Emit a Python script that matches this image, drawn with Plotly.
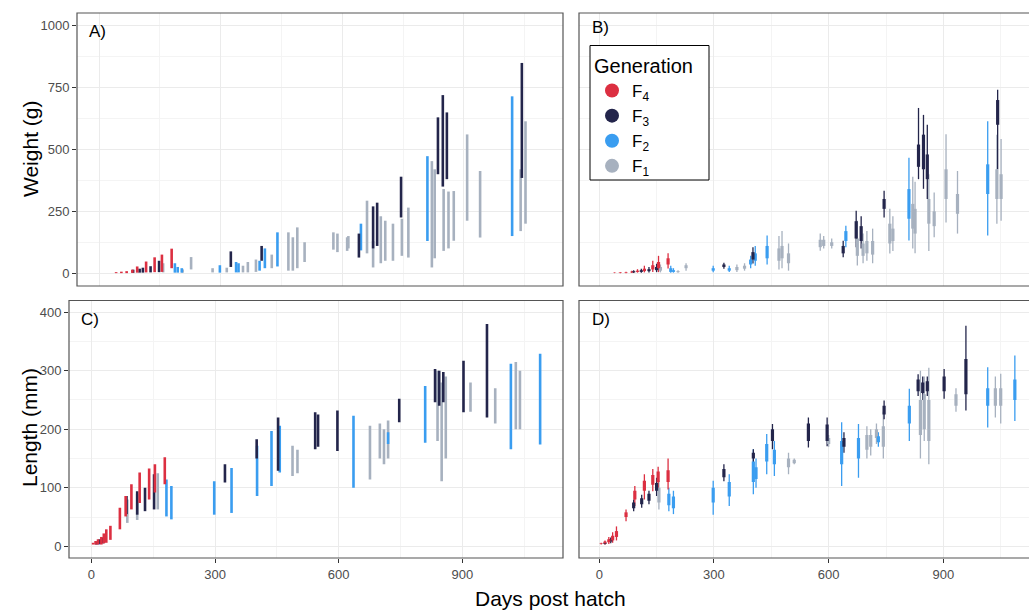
import plotly.graph_objects as go

# ---------------- data (day, generation, low, high) per sampling strip ----------------
# Panel A: weight (g), individual fish
A_day = [42, 55, 68, 82, 94, 116, 137, 155, 179,
         84, 100, 108, 127, 148, 325, 401, 641, 676, 686, 745, 836, 848, 858, 1043,
         187, 194, 204, 298, 338, 344, 396, 409, 440, 646, 810, 1019,
         158, 206, 227, 280, 315, 355, 367, 387, 426, 467, 478, 489, 507, 578, 588, 612, 615,
         661, 676, 695, 706, 725, 747, 763, 821, 828, 850, 862, 875, 908, 940, 1040, 1052]
A_gen = [4]*9 + [3]*15 + [2]*12 + [1]*33
A_lo = [0, 0, 0, 1, 2, 3, 4, 5, 20,
        1, 2, 2, 3, 4, 25, 50, 63, 100, 110, 225, 400, 350, 380, 385,
        2, 2, 2, 2, 3, 3, 10, 20, 27, 92, 130, 150,
        3, 2, 15, 3, 3, 3, 3, 5, 20, 10, 10, 20, 45, 95, 85, 90, 100,
        80, 23, 40, 50, 50, 70, 63, 23, 60, 90, 100, 131, 212, 144, 170, 200]
A_hi = [4, 6, 8, 14, 27, 47, 64, 75, 99,
        14, 18, 22, 28, 50, 88, 110, 160, 270, 285, 390, 630, 720, 650, 850,
        40, 25, 20, 32, 45, 40, 50, 100, 165, 200, 473, 715,
        40, 15, 65, 20, 22, 30, 45, 55, 75, 165, 145, 185, 125, 165, 160, 145, 150,
        293, 130, 230, 212, 200, 220, 265, 453, 420, 340, 330, 332, 561, 413, 420, 614]

# Panel B: weight (g), family summaries (whisker low/high, box low/high)
B_day = [40, 55, 70, 85, 100, 118, 140, 155, 180,
         90, 110, 130, 150, 326, 402, 638, 672, 685, 745, 835, 848, 858, 1042,
         187, 194, 298, 340, 396, 408, 439, 645, 810, 1016,
         160, 206, 227, 360, 380, 470, 478, 495, 578, 587, 608, 675, 690, 700, 715,
         760, 768, 820, 826, 862, 876, 907, 937, 1040, 1051]
B_gen = [4]*9 + [3]*14 + [2]*10 + [1]*25
B_lo = [0, 0, 0, 1, 2, 3, 5, 4, 19,
        1, 2, 3, 4, 18, 39, 64, 105, 100, 225, 380, 341, 300, 420,
        2, 2, 4, 5, 20, 30, 35, 105, 132, 152,
        3, 2, 10, 5, 10, 15, 20, 10, 91, 100, 100, 31, 40, 50, 40,
        79, 90, 100, 80, 90, 145, 205, 160, 200, 212]
B_hi = [3, 4, 6, 10, 16, 30, 50, 70, 80,
        12, 18, 25, 38, 42, 105, 131, 252, 230, 333, 668, 640, 600, 742,
        30, 20, 30, 30, 70, 110, 152, 192, 467, 614,
        35, 12, 40, 35, 40, 150, 170, 120, 160, 150, 140, 212, 160, 170, 180,
        260, 230, 390, 370, 400, 326, 562, 413, 560, 542]
B_q1 = [1, 1, 2, 3, 5, 8, 15, 20, 35,
        3, 5, 8, 12, 25, 55, 80, 140, 130, 260, 430, 420, 380, 600,
        5, 5, 10, 10, 35, 50, 60, 130, 220, 320,
        10, 4, 20, 12, 18, 50, 60, 40, 105, 110, 110, 70, 70, 80, 75,
        120, 130, 180, 160, 200, 190, 300, 240, 300, 300]
B_q3 = [2, 3, 4, 6, 10, 18, 32, 45, 60,
        8, 12, 16, 25, 35, 85, 110, 210, 190, 300, 520, 560, 480, 700,
        20, 12, 20, 20, 55, 80, 110, 170, 340, 440,
        25, 8, 32, 25, 30, 100, 110, 80, 135, 135, 125, 140, 120, 130, 130,
        200, 180, 280, 260, 300, 250, 420, 320, 420, 400]

# Panel C: length (mm), individual fish
C_day = [4, 10, 16, 24, 30, 36, 46, 69, 83, 97, 117, 140, 154, 178,
         12, 20, 28, 85, 111, 130, 152, 324, 401, 453, 543, 550, 597, 747, 834, 844, 854, 903, 960,
         18, 182, 194, 298, 340, 402, 437, 457, 636, 720, 810, 1018, 1089,
         87, 111, 161, 488, 500, 676, 700, 710, 720, 840, 850, 860, 920, 980, 1030, 1040]
C_gen = [4]*14 + [3]*19 + [2]*13 + [1]*16
C_lo = [3, 3, 3, 3, 5, 6, 11, 29, 51, 63, 74, 80, 92, 106,
        3, 4, 5, 55, 54, 60, 63, 109, 150, 129, 166, 170, 163, 212, 246, 240, 246, 229, 220,
        3, 51, 46, 54, 57, 86, 103, 126, 100, 175, 177, 166, 174,
        40, 45, 63, 120, 125, 114, 150, 140, 150, 180, 111, 150, 230, 210, 200, 200]
C_hi = [6, 9, 12, 16, 22, 29, 35, 66, 86, 106, 126, 133, 140, 152,
        8, 12, 15, 86, 94, 100, 123, 140, 183, 220, 229, 225, 232, 252, 303, 300, 298, 317, 380,
        8, 114, 103, 111, 134, 172, 197, 206, 223, 195, 274, 312, 329,
        80, 90, 125, 172, 165, 206, 210, 200, 215, 300, 280, 290, 280, 270, 315, 300]

# Panel D: length (mm), family summaries (whisker low/high, box low/high)
D_day = [5, 15, 25, 35, 45, 70, 93, 118, 140, 154, 180,
         15, 30, 90, 111, 130, 150, 326, 403, 453, 547, 596, 640, 745, 834, 846, 858, 902, 959,
         182, 194, 298, 340, 403, 410, 438, 458, 634, 678, 730, 811, 1016, 1087,
         156, 495, 510, 600, 700, 710, 725, 743, 840, 850, 862, 933, 1036, 1050]
D_gen = [4]*11 + [3]*18 + [2]*14 + [1]*14
D_lo = [3, 3, 4, 6, 10, 43, 69, 80, 94, 100, 97,
        3, 5, 60, 66, 72, 86, 111, 140, 166, 169, 171, 160, 217, 257, 250, 257, 252, 232,
        60, 55, 54, 69, 89, 100, 123, 120, 103, 117, 170, 180, 203, 214,
        63, 123, 140, 170, 150, 155, 175, 150, 150, 180, 140, 230, 220, 210]
D_hi = [6, 10, 16, 24, 34, 63, 103, 123, 132, 136, 150,
        8, 15, 80, 88, 95, 117, 140, 166, 209, 220, 220, 195, 249, 294, 290, 290, 303, 377,
        100, 95, 112, 123, 166, 150, 192, 180, 212, 209, 195, 269, 306, 326,
        112, 160, 150, 190, 205, 200, 210, 230, 300, 290, 305, 270, 290, 295]
D_q1 = [4, 5, 7, 10, 16, 50, 80, 95, 105, 110, 110,
        4, 8, 65, 72, 78, 95, 118, 150, 180, 180, 180, 170, 225, 265, 262, 265, 265, 260,
        70, 65, 75, 85, 110, 115, 145, 140, 140, 150, 178, 210, 240, 250,
        75, 135, 142, 175, 165, 170, 185, 170, 190, 200, 180, 240, 240, 240]
D_q3 = [5, 8, 12, 18, 26, 58, 95, 112, 122, 128, 130,
        6, 12, 75, 82, 90, 108, 132, 160, 200, 210, 208, 185, 240, 285, 280, 282, 290, 320,
        90, 85, 100, 110, 145, 135, 175, 165, 180, 185, 188, 240, 270, 285,
        100, 150, 148, 185, 190, 190, 200, 205, 250, 260, 250, 260, 270, 270]

GENS = [4, 3, 2, 1]
GEN_LABELS = ["F<sub>4</sub>", "F<sub>3</sub>", "F<sub>2</sub>", "F<sub>1</sub>"]
GEN_COLORS = {4: "#DC2F41", 3: "#23254B", 2: "#3A9DF0", 1: "#A7B1BF"}

X_TICKS = [0, 300, 600, 900]
W_TICKS = [0, 250, 500, 750, 1000]
L_TICKS = [0, 100, 200, 300, 400]

FONT = "Liberation Sans, Arial, sans-serif"
W, H = 1029, 611

fig = go.Figure()

# legend entries
for g, lab in zip(GENS, GEN_LABELS):
    fig.add_trace(go.Scatter(x=[None], y=[None], mode="markers", name=lab,
                             marker=dict(size=14, color=GEN_COLORS[g]),
                             xaxis="x2", yaxis="y2", showlegend=True))


def add_segments(days, gens, los, his, xa, ya, lw):
    for g in [1, 2, 3, 4]:
        xs, ys = [], []
        for d, gg, lo, hi in zip(days, gens, los, his):
            if gg == g:
                xs += [d, d, None]
                ys += [lo, hi, None]
        fig.add_trace(go.Scatter(x=xs, y=ys, mode="lines", xaxis=xa, yaxis=ya,
                                 line=dict(color=GEN_COLORS[g], width=lw),
                                 showlegend=False, hoverinfo="skip"))


add_segments(A_day, A_gen, A_lo, A_hi, "x", "y", 2.6)
add_segments(C_day, C_gen, C_lo, C_hi, "x3", "y3", 2.6)
add_segments(B_day, B_gen, B_lo, B_hi, "x2", "y2", 1.3)
add_segments(B_day, B_gen, B_q1, B_q3, "x2", "y2", 3.2)
add_segments(D_day, D_gen, D_lo, D_hi, "x4", "y4", 1.3)
add_segments(D_day, D_gen, D_q1, D_q3, "x4", "y4", 3.2)


def px(v):
    return v / W


def py(v):
    return (H - v) / H


row1 = [py(286), py(13)]
row2 = [py(558), py(300.5)]
colA = [px(77), px(563)]
colC = [px(69), px(563)]
colB = [px(579), 1.0]

grid = "#EBEBEB"
minor = dict(showgrid=True, gridcolor="#F4F4F4", gridwidth=1)
tickfont = dict(family=FONT, size=13, color="#4D4D4D")


def xax(domain, rng, anchor, labels):
    return dict(domain=domain, range=rng, anchor=anchor, tickvals=X_TICKS,
                showgrid=True, gridcolor=grid, gridwidth=1, zeroline=False,
                showline=False, ticks="outside" if labels else "", ticklen=4,
                tickcolor="#333333", showticklabels=labels, tickfont=tickfont,
                minor=dict(dtick=150, tick0=0, **minor))


def yax(domain, rng, anchor, ticks, mdt, labels):
    return dict(domain=domain, range=rng, anchor=anchor, tickvals=ticks,
                showgrid=True, gridcolor=grid, gridwidth=1, zeroline=False,
                showline=False, ticks="outside" if labels else "", ticklen=4,
                tickcolor="#333333", showticklabels=labels, tickfont=tickfont,
                minor=dict(dtick=mdt, tick0=0, **minor))


fig.update_layout(
    width=W, height=H, margin=dict(l=0, r=0, t=0, b=0),
    paper_bgcolor="white", plot_bgcolor="white",
    font=dict(family=FONT, color="black"),
    xaxis=xax(colA, [-54.5, 1144.5], "y", False),
    yaxis=yax(row1, [-52, 1052], "x", W_TICKS, 125, True),
    xaxis2=xax(colB, [-53, 1124], "y2", False),
    yaxis2=yax(row1, [-52, 1052], "x2", W_TICKS, 125, False),
    xaxis3=xax(colC, [-54.5, 1144.5], "y3", True),
    yaxis3=yax(row2, [-20, 420], "x3", L_TICKS, 50, True),
    xaxis4=xax(colB, [-53, 1124], "y4", True),
    yaxis4=yax(row2, [-20, 420], "x4", L_TICKS, 50, False),
    legend=dict(x=px(592), y=py(47), xanchor="left", yanchor="top",
                bgcolor="rgba(0,0,0,0)", borderwidth=0,
                font=dict(family=FONT, size=17, color="black"),
                title=dict(text="Generation", font=dict(family=FONT, size=20, color="black")),
                tracegroupgap=0, itemwidth=30),
    showlegend=True,
)

# panel borders
for xa, ya, x1 in [("x", "y", 1), ("x2", "y2", 1.05), ("x3", "y3", 1), ("x4", "y4", 1.05)]:
    fig.add_shape(type="rect", xref=f"{xa} domain", yref=f"{ya} domain",
                  x0=0, x1=x1, y0=0, y1=1, line=dict(color="#555555", width=1.2),
                  fillcolor="rgba(0,0,0,0)", layer="above")

# legend box
fig.add_shape(type="rect", xref="paper", yref="paper", x0=px(590), x1=px(709),
              y0=py(180), y1=py(45.5), line=dict(color="black", width=1),
              fillcolor="white", layer="above")

annos = [
    ("A)", px(87), py(32)), ("B)", px(590), py(27)),
    ("C)", px(79), py(319)), ("D)", px(590), py(319)),
]
for t, x, y in annos:
    fig.add_annotation(text=t, x=x, y=y, xref="paper", yref="paper", xanchor="left",
                       yanchor="middle", showarrow=False,
                       font=dict(family=FONT, size=17, color="black"))

fig.add_annotation(text="Weight (g)", x=px(30), y=py(149), xref="paper", yref="paper",
                   xanchor="center", yanchor="middle",
                   textangle=-90, showarrow=False, font=dict(family=FONT, size=21, color="black"))
fig.add_annotation(text="Length (mm)", x=px(30), y=py(428), xref="paper", yref="paper",
                   xanchor="center", yanchor="middle",
                   textangle=-90, showarrow=False, font=dict(family=FONT, size=21, color="black"))
fig.add_annotation(text="Days post hatch", x=px(550), y=py(598), xref="paper", yref="paper",
                   xanchor="center", yanchor="middle",
                   showarrow=False, font=dict(family=FONT, size=21, color="black"))

fig.write_html("out.html")
